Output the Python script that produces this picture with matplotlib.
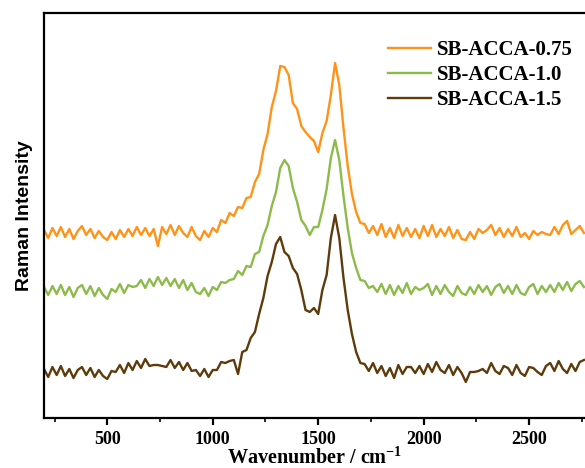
import numpy as np
import matplotlib
matplotlib.use("Agg")
import matplotlib.pyplot as plt

plt.rcParams["mathtext.fontset"] = "custom"
plt.rcParams["mathtext.rm"] = "Liberation Serif:bold"
plt.rcParams["mathtext.bf"] = "Liberation Serif:bold"
plt.rcParams["mathtext.default"] = "rm"

# Wavenumber grid (cm^-1)
wavenumber = np.arange(200, 2761, 20)

labels = ["SB-ACCA-0.75", "SB-ACCA-1.0", "SB-ACCA-1.5"]
colors = ["#FF9318", "#8DBB4B", "#5E3B0B"]

# Intensities (arbitrary units, offset stacked)
sb_075 = [
    188, 180, 190, 182, 191, 181, 189, 179, 187, 192,
    183, 189, 180, 187, 181, 178, 186, 179, 188, 181,
    189, 182, 191, 183, 190, 182, 189, 172, 191, 184,
    193, 183, 192, 185, 181, 191, 182, 178, 187, 181,
    190, 186, 198, 195, 205, 202, 211, 210, 220, 221,
    236, 244, 268, 284, 311, 327, 352, 351, 343, 315,
    309, 292, 286, 281, 277, 266, 285, 297, 323, 355,
    333, 290, 252, 224, 206, 195, 194, 185, 192, 183,
    194, 181, 190, 180, 193, 182, 190, 181, 189, 180,
    192, 182, 193, 181, 189, 182, 191, 180, 188, 179,
    178, 186, 179, 189, 185, 188, 193, 183, 190, 181,
    189, 182, 191, 181, 185, 179, 187, 183, 186, 184,
    183, 191, 184, 193, 197, 184, 188, 192, 185,
]
sb_10 = [
    131, 123, 132, 124, 133, 123, 131, 121, 130, 133,
    124, 132, 122, 130, 123, 119, 129, 126, 134, 125,
    133, 131, 132, 138, 130, 139, 132, 141, 133, 140,
    132, 139, 130, 138, 128, 135, 126, 124, 130, 122,
    131, 128, 136, 135, 138, 139, 147, 143, 152, 151,
    164, 166, 182, 193, 212, 226, 250, 258, 252, 230,
    216, 198, 192, 183, 191, 191, 208, 229, 260, 278,
    258, 222, 190, 165, 150, 138, 137, 130, 132, 126,
    134, 124, 133, 123, 132, 125, 135, 124, 131, 128,
    130, 134, 123, 132, 124, 133, 126, 122, 132, 125,
    123, 131, 124, 133, 126, 132, 123, 131, 134, 125,
    132, 124, 133, 125, 123, 131, 134, 124, 132, 126,
    133, 126, 135, 128, 136, 127, 134, 137, 131,
]
sb_15 = [
    49, 41, 51, 43, 52, 42, 49, 40, 48, 51,
    43, 50, 41, 48, 42, 39, 47, 46, 53, 45,
    55, 48, 57, 50, 59, 52, 53, 53, 52, 51,
    58, 50, 56, 48, 55, 47, 48, 42, 49, 41,
    48, 48, 56, 55, 57, 58, 44, 66, 68, 80,
    86, 104, 120, 142, 156, 174, 181, 166, 162, 150,
    144, 128, 108, 106, 110, 104, 128, 143, 180, 203,
    180, 140, 108, 84, 66, 55, 54, 47, 55, 45,
    52, 42, 50, 40, 53, 44, 51, 51, 45, 52,
    44, 54, 46, 56, 48, 45, 53, 43, 51, 45,
    36, 46, 46, 47, 49, 45, 55, 47, 44, 52,
    50, 43, 53, 45, 42, 51, 50, 46, 43, 52,
    55, 47, 57, 49, 45, 54, 47, 56, 58,
]
series = [sb_075, sb_10, sb_15]

fig = plt.figure(figsize=(5.85, 4.68), dpi=100)
ax = fig.add_axes([44 / 585, 50 / 468, 1 - 44 / 585, (418 - 13.3) / 468])

for lab, col, vals in zip(labels, colors, series):
    ax.plot(wavenumber, vals, color=col, lw=1.7, label=lab)

ax.set_xlim(200, 2765)
ax.set_ylim(0, 404.7)

for s in ["left", "top", "bottom"]:
    ax.spines[s].set_linewidth(1.6)
ax.spines["right"].set_visible(False)

ax.set_xticks([500, 1000, 1500, 2000, 2500])
ax.set_xticks([250, 750, 1250, 1750, 2250, 2750], minor=True)
ax.set_yticks([])
ax.tick_params(axis="x", which="major", direction="out", length=5, width=1.6, pad=4)
ax.tick_params(axis="x", which="minor", direction="out", length=3, width=1.2)
for t in ax.get_xticklabels():
    t.set_fontfamily("Liberation Serif")
    t.set_fontweight("bold")
    t.set_fontsize(13)

ax.set_xlabel("Wavenumber / cm$^{-1}$", fontfamily="Liberation Serif",
              fontweight="bold", fontsize=14.5, labelpad=0)
ax.set_ylabel("Raman Intensity", fontfamily="Liberation Sans",
              fontweight="bold", fontsize=14, labelpad=8)

leg = ax.legend(loc="upper right", bbox_to_anchor=(1.0, 0.965), frameon=False,
                prop={"family": "Liberation Serif", "weight": "bold", "size": 15},
                handlelength=2.1, handletextpad=0.25, labelspacing=0.25,
                borderaxespad=0.2)

fig.savefig("out.png", dpi=100)
